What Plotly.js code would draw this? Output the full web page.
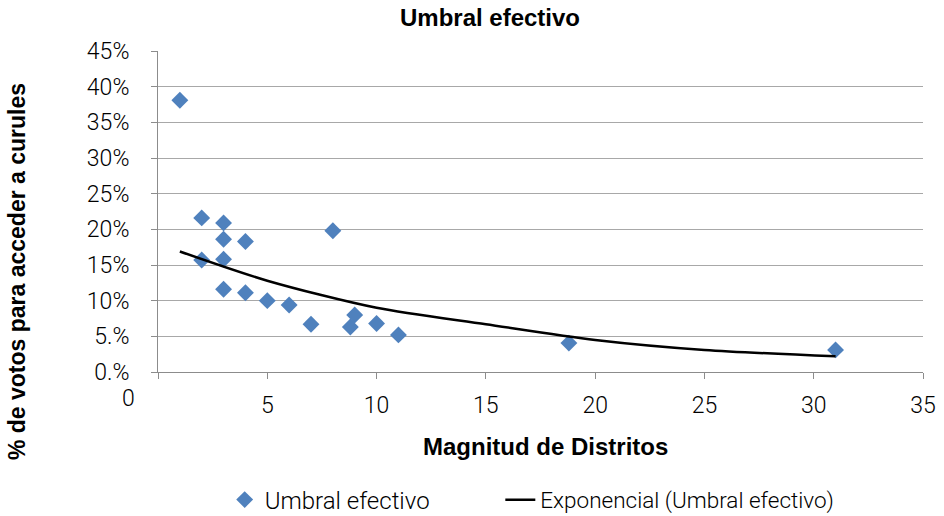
<!DOCTYPE html>
<html>
<head>
<meta charset="utf-8">
<script src="https://cdn.plot.ly/plotly-3.0.1.min.js"></script>
<style>
  html, body { margin: 0; padding: 0; background: #ffffff; }
  #chart { width: 944px; height: 516px; }
</style>
</head>
<body>
<div id="chart"></div>
<script>
// District magnitude and effective threshold (share of votes needed to win a seat)
const magnitud = [1, 2, 2, 3, 3, 3, 3, 4, 4, 5, 6, 7, 8, 8.8, 9, 10, 11, 18.8, 31];
const umbral   = [0.381, 0.216, 0.157, 0.209, 0.186, 0.158, 0.116, 0.183, 0.111, 0.100,
                  0.094, 0.067, 0.198, 0.063, 0.080, 0.068, 0.052, 0.0405, 0.031];

// Exponential trend line
const tendenciaX = [1, 5, 10, 15, 20, 25, 31];
const tendenciaY = [0.169, 0.128, 0.090, 0.067, 0.045, 0.031, 0.022];

// Axis ticks
const yTicks  = [0, 0.05, 0.10, 0.15, 0.20, 0.25, 0.30, 0.35, 0.40, 0.45];
const yLabels = ['0.%', '5.%', '10%', '15%', '20%', '25%', '30%', '35%', '40%', '45%'];
const xTicks  = [0, 5, 10, 15, 20, 25, 30, 35];
const xLabels = ['', '5', '10', '15', '20', '25', '30', '35'];

const labelFont = { family: 'Roboto, "Liberation Sans", Arial, sans-serif', size: 23, color: '#000000', weight: 300 };
const legendFont = { family: 'Roboto, "Liberation Sans", Arial, sans-serif', size: 24, color: '#000000', weight: 300 };
const legendFont2 = { family: 'Roboto, "Liberation Sans", Arial, sans-serif', size: 22.5, color: '#000000', weight: 300 };
const titleFont = { family: '"Liberation Sans", Arial, sans-serif', size: 24, color: '#000000', weight: 700 };
const yTitleFont = { family: '"Liberation Sans", Arial, sans-serif', size: 23, color: '#000000', weight: 700 };

const traces = [
  {
    type: 'scatter',
    mode: 'markers',
    name: 'Umbral efectivo',
    x: magnitud,
    y: umbral,
    legend: 'legend',
    marker: { symbol: 'diamond', size: 13, color: '#4F81BD', line: { width: 0 } }
  },
  {
    type: 'scatter',
    mode: 'lines',
    name: 'Exponencial (Umbral efectivo)',
    x: tendenciaX,
    y: tendenciaY,
    legend: 'legend2',
    line: { color: '#000000', width: 2.5, shape: 'spline', smoothing: 0.8 }
  }
];

const layout = {
  width: 944,
  height: 516,
  margin: { l: 158, r: 21, t: 51, b: 144 },
  paper_bgcolor: '#ffffff',
  plot_bgcolor: '#ffffff',
  showlegend: true,
  title: {
    text: 'Umbral efectivo',
    font: titleFont,
    xref: 'paper', x: 0.434, xanchor: 'center',
    yref: 'container', y: 0.965, yanchor: 'middle'
  },
  xaxis: {
    range: [0, 35],
    tickvals: xTicks,
    ticktext: xLabels,
    ticks: 'outside', ticklen: 6, tickwidth: 1, tickcolor: '#8c8c8c',
    showline: true, linecolor: '#8c8c8c', linewidth: 1,
    showgrid: false, zeroline: false,
    tickfont: labelFont,
    ticklabelstandoff: 6,
    automargin: false,
    fixedrange: true
  },
  yaxis: {
    range: [0, 0.45],
    tickvals: yTicks,
    ticktext: yLabels,
    ticks: 'outside', ticklen: 6, tickwidth: 1, tickcolor: '#8c8c8c',
    showline: true, linecolor: '#8c8c8c', linewidth: 1,
    showgrid: true, gridcolor: '#a8a8a8', gridwidth: 1,
    zeroline: false,
    tickfont: labelFont,
    ticklabelstandoff: 17,
    automargin: false,
    fixedrange: true
  },
  legend: {
    orientation: 'h',
    xref: 'container', x: 0.238, xanchor: 'left',
    yref: 'container', y: 0.031, yanchor: 'middle',
    font: legendFont,
    bgcolor: 'rgba(0,0,0,0)'
  },
  legend2: {
    orientation: 'h',
    xref: 'container', x: 0.530, xanchor: 'left',
    yref: 'container', y: 0.031, yanchor: 'middle',
    font: legendFont2,
    bgcolor: 'rgba(0,0,0,0)'
  },
  annotations: [
    {
      text: '0', showarrow: false,
      xref: 'x', x: 0, xanchor: 'center', xshift: -30,
      yref: 'paper', y: 0, yanchor: 'top', yshift: -11,
      font: labelFont
    },
    {
      text: 'Magnitud de Distritos', showarrow: false,
      xref: 'paper', x: 0.506, xanchor: 'center',
      yref: 'paper', y: -0.232, yanchor: 'middle',
      font: titleFont
    },
    {
      text: '% de votos para acceder a curules', showarrow: false,
      textangle: -90,
      xref: 'paper', x: -0.184, xanchor: 'center',
      yref: 'paper', y: 0.312, yanchor: 'middle',
      font: yTitleFont
    }
  ]
};

Plotly.newPlot('chart', traces, layout, { displayModeBar: false, staticPlot: true });
</script>
</body>
</html>
